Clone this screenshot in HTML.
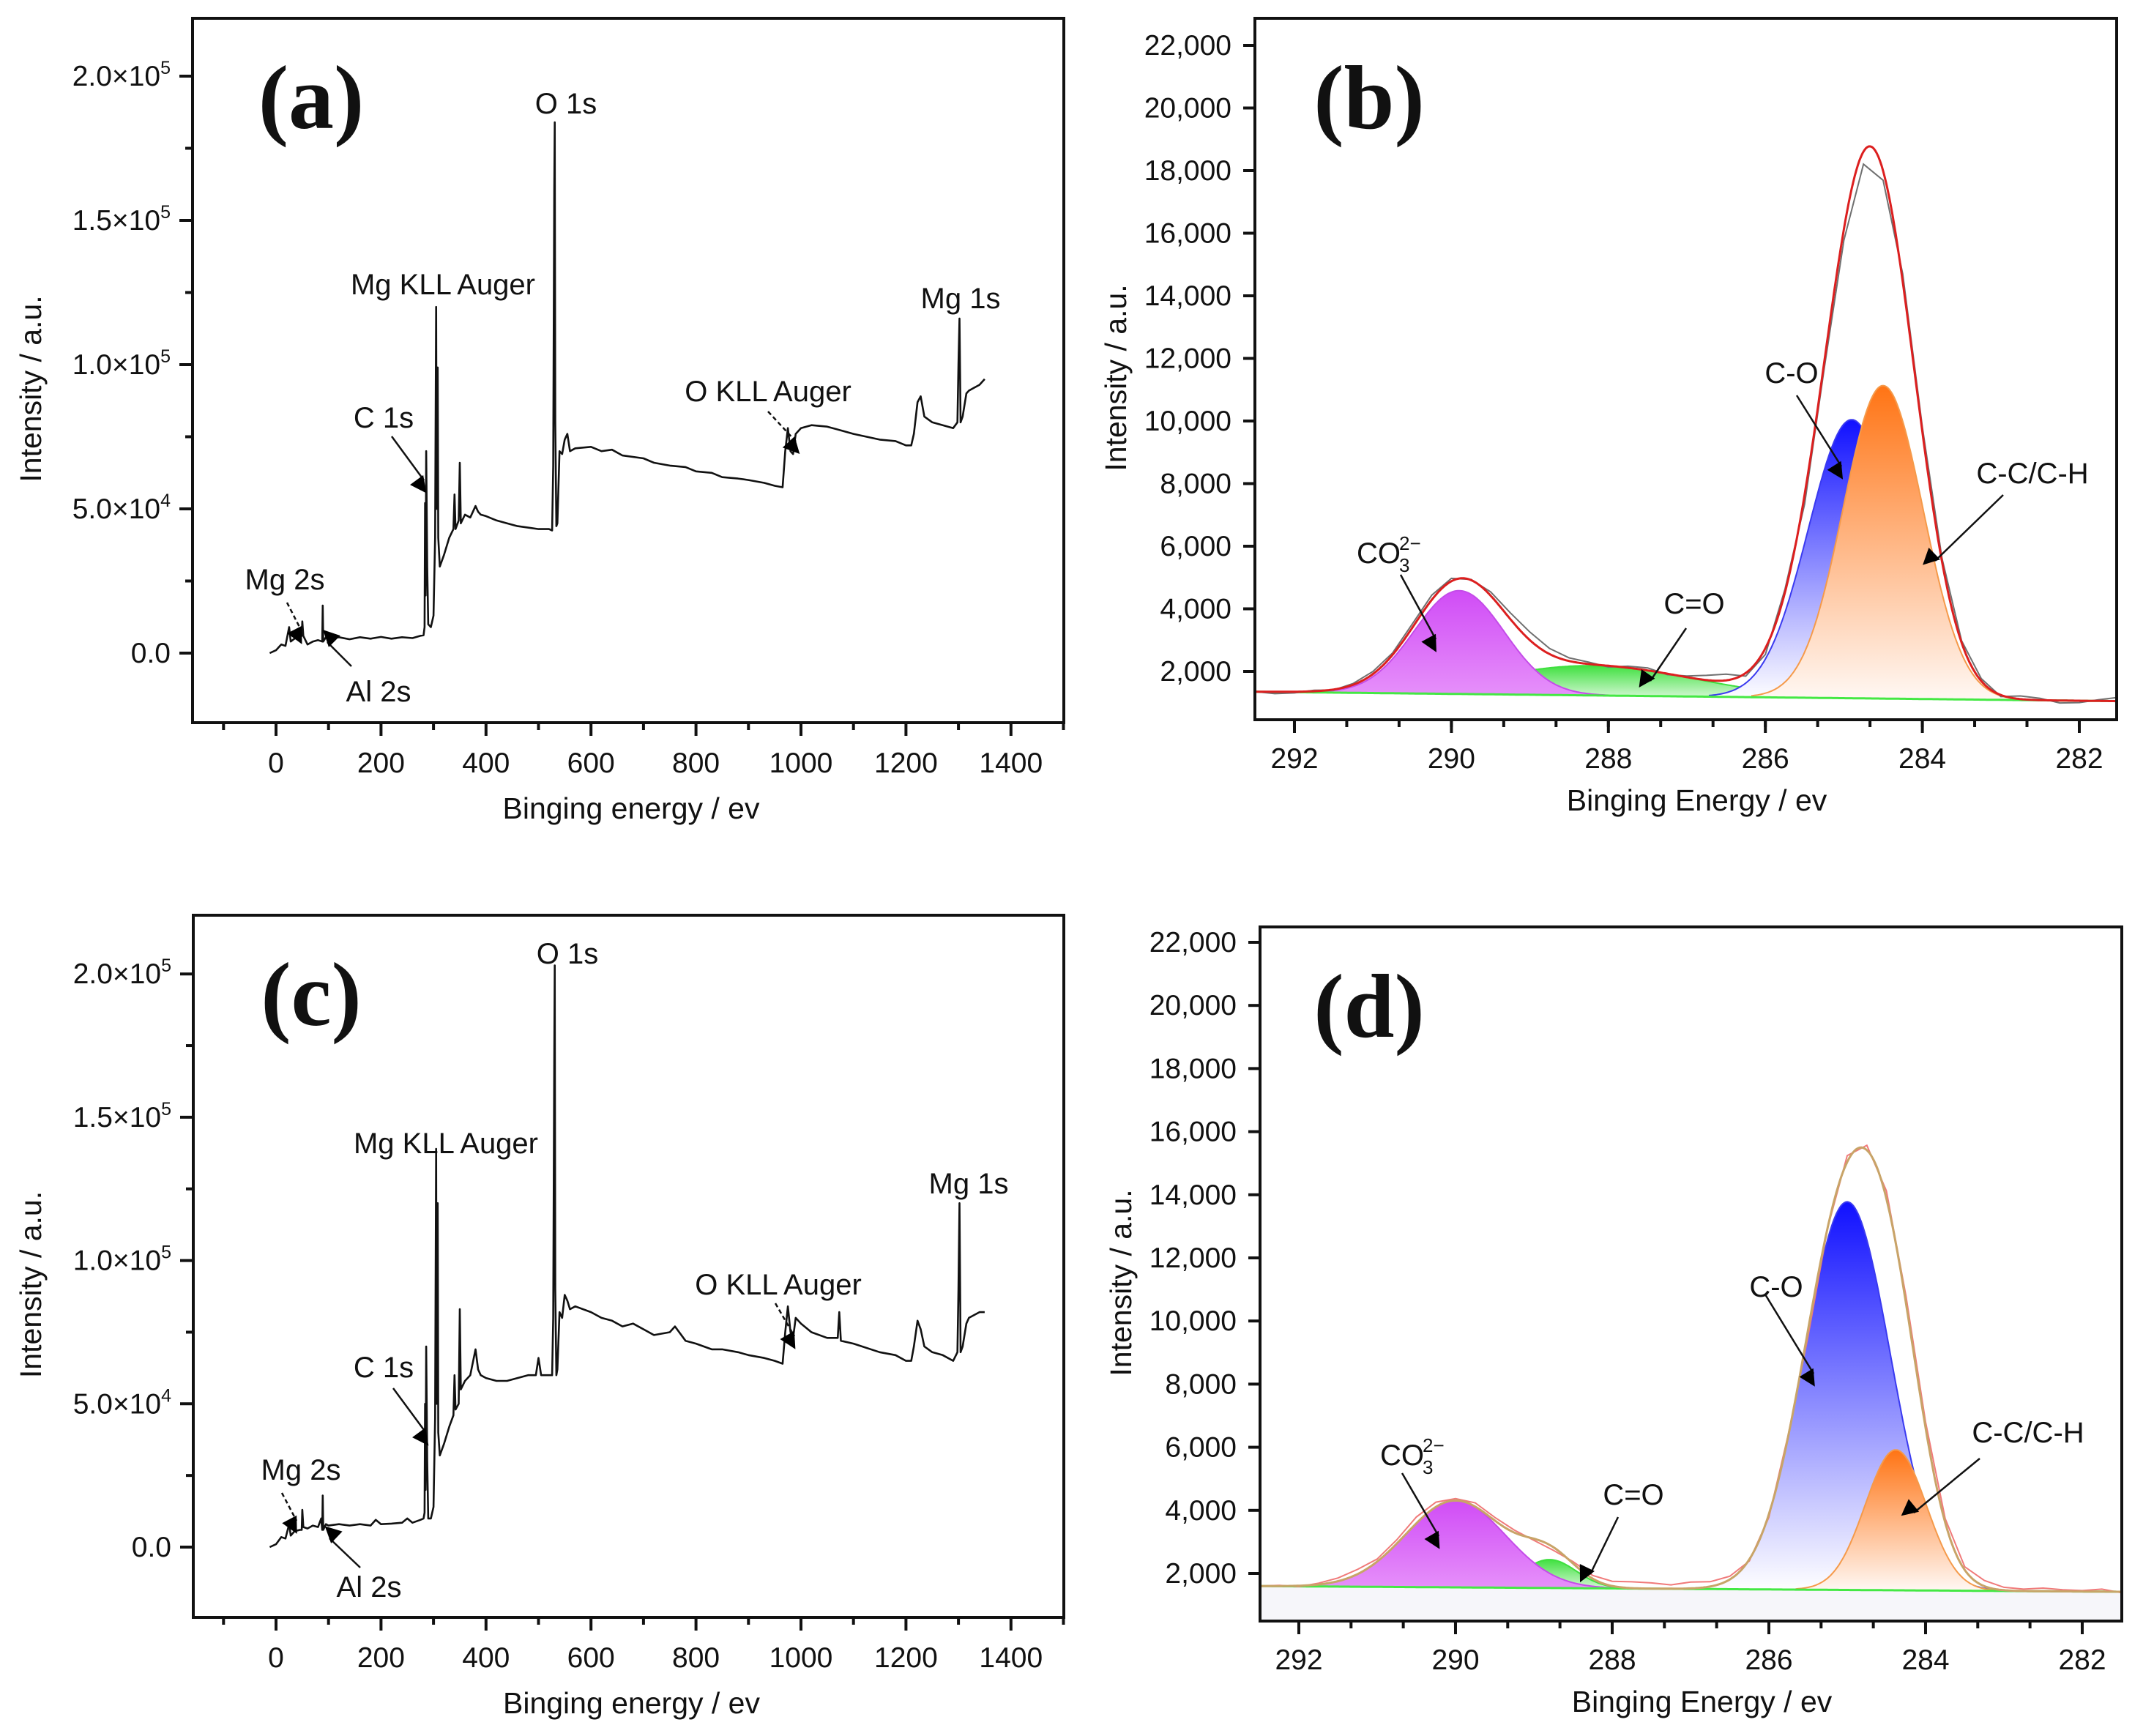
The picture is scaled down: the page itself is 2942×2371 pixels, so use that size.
<!DOCTYPE html>
<html><head><meta charset="utf-8"><style>
html,body{margin:0;padding:0;background:#fff;}
svg{display:block;font-family:"Liberation Sans",Arial,sans-serif;}
</style></head>
<body>
<svg id="fig" width="2942" height="2371" viewBox="0 0 2942 2371" xmlns="http://www.w3.org/2000/svg">
<defs>
<marker id="ah" viewBox="0 0 10 10" refX="9" refY="5" markerWidth="7" markerHeight="7" orient="auto-start-reverse" markerUnits="userSpaceOnUse" style="overflow:visible">
<path d="M0,0 L10,5 L0,10 z" fill="#000" transform="scale(3.2)"/>
</marker>
<linearGradient id="gBlue" x1="0" y1="0" x2="0" y2="1"><stop offset="0" stop-color="#1010ff"/><stop offset="1" stop-color="#ffffff"/></linearGradient>
<linearGradient id="gOrange" x1="0" y1="0" x2="0" y2="1"><stop offset="0" stop-color="#ff7414"/><stop offset="1" stop-color="#fff8f4"/></linearGradient>
<linearGradient id="gPurple" x1="0" y1="0" x2="0" y2="1"><stop offset="0" stop-color="#d04cf6"/><stop offset="1" stop-color="#e690fa"/></linearGradient>
<linearGradient id="gGreen" x1="0" y1="0" x2="0" y2="1"><stop offset="0" stop-color="#40e040"/><stop offset="1" stop-color="#e4fae4"/></linearGradient>
<clipPath id="clipA"><rect x="263" y="25" width="1190" height="962"/></clipPath>
<clipPath id="clipB"><rect x="1714" y="25" width="1177" height="958"/></clipPath>
<clipPath id="clipC"><rect x="264" y="1250" width="1189" height="959"/></clipPath>
<clipPath id="clipD"><rect x="1721" y="1266" width="1177" height="948"/></clipPath>
</defs>
<g id="root"></g>
</svg>
<script>
// ---------- DATA ----------
const surveyA = [[-12,0],[0,0.1],[10,0.3],[18,0.25],[25,0.9],[28,0.4],[35,0.5],[45,0.55],[49,0.6],[50,1.1],[52,0.6],[60,0.3],[70,0.4],[80,0.45],[88,0.4],[89,1.65],[90,0.4],[95,0.55],[100,0.5],[120,0.55],[140,0.48],[160,0.55],[180,0.5],[200,0.56],[220,0.5],[240,0.55],[260,0.52],[275,0.6],[281,0.62],[283,0.9],[284,5.2],[285,2.0],[286,7.0],[288,3.0],[290,1.0],[295,0.9],[300,1.3],[303,4.0],[305,12.0],[306,5.0],[308,9.9],[309,4.0],[312,3.0],[320,3.4],[330,4.0],[338,4.3],[340,5.5],[342,4.3],[348,4.6],[350,6.6],[352,4.5],[360,4.8],[370,4.7],[380,5.1],[385,4.9],[390,4.8],[400,4.75],[420,4.6],[440,4.5],[460,4.4],[480,4.35],[500,4.3],[520,4.3],[526,4.25],[528,6.5],[530,16],[531,18.4],[532,8],[534,4.4],[536,4.5],[540,7.0],[545,6.9],[550,7.4],[555,7.6],[560,7.0],[570,7.1],[600,7.15],[620,7.0],[640,7.05],[660,6.85],[700,6.75],[720,6.6],[750,6.5],[780,6.45],[800,6.3],[830,6.25],[850,6.1],[880,6.05],[900,6.0],[930,5.9],[950,5.8],[965,5.75],[970,7.0],[975,7.8],[980,7.0],[985,6.9],[990,7.6],[1000,7.8],[1020,7.9],[1050,7.85],[1080,7.7],[1100,7.6],[1150,7.4],[1180,7.35],[1200,7.2],[1210,7.2],[1215,7.6],[1222,8.7],[1228,8.9],[1235,8.2],[1250,8.0],[1270,7.9],[1290,7.8],[1298,8.0],[1300,10.0],[1302,11.6],[1304,8.0],[1308,8.2],[1315,9.0],[1320,9.1],[1330,9.2],[1340,9.3],[1350,9.5]];
const surveyC = [[-12,0],[0,0.1],[10,0.35],[18,0.3],[25,0.8],[28,0.4],[35,0.55],[45,0.6],[49,0.6],[50,1.3],[52,0.7],[60,0.65],[70,0.75],[80,0.7],[86,1.0],[88,0.6],[89,1.8],[90,0.6],[95,0.8],[100,0.75],[120,0.8],[140,0.75],[160,0.8],[180,0.75],[190,0.95],[200,0.8],[220,0.82],[240,0.85],[250,1.0],[260,0.85],[275,0.95],[281,1.0],[283,1.2],[284,5.0],[285,2.0],[286,7.0],[288,3.0],[290,1.0],[295,1.0],[300,1.4],[303,4.5],[305,13.9],[306,5.0],[308,12.0],[309,4.0],[312,3.2],[320,3.6],[330,4.2],[338,4.6],[340,6.0],[342,4.8],[348,5.0],[350,8.3],[352,5.5],[360,5.8],[370,6.0],[380,6.9],[385,6.2],[390,6.0],[400,5.9],[420,5.8],[440,5.8],[460,5.9],[480,6.0],[495,6.0],[500,6.6],[505,6.0],[520,6.0],[526,6.0],[528,8.0],[530,17],[531,20.3],[532,9],[534,6.0],[536,6.2],[540,8.2],[545,8.0],[550,8.8],[555,8.6],[560,8.3],[570,8.4],[600,8.2],[620,8.0],[640,7.9],[660,7.7],[680,7.8],[700,7.6],[720,7.4],[750,7.5],[760,7.7],[780,7.2],[800,7.1],[830,6.9],[850,6.9],[880,6.8],[900,6.7],[930,6.6],[950,6.5],[965,6.4],[970,7.5],[975,8.4],[980,7.5],[985,7.3],[990,8.0],[1000,7.8],[1020,7.5],[1050,7.3],[1070,7.3],[1073,8.2],[1076,7.2],[1100,7.1],[1150,6.8],[1180,6.7],[1200,6.5],[1210,6.5],[1215,7.0],[1222,7.9],[1228,7.6],[1235,7.0],[1250,6.8],[1270,6.7],[1290,6.5],[1298,6.8],[1300,9.0],[1302,12.0],[1304,6.8],[1308,7.0],[1315,7.8],[1320,8.0],[1330,8.1],[1340,8.2],[1350,8.2]];
const surveyXTicks = [0,200,400,600,800,1000,1200,1400];
const surveyYTicks = [0,5,10,15,20];
const surveyYLabels = ["0.0","5.0×10","1.0×10","1.5×10","2.0×10"];
const surveyYExp = ["","4","5","5","5"];

const bCenters = [288.2, 289.9, 284.9, 284.5];
const bAmps    = [950, 3300, 8900, 10000];
const bFwhm    = [3.0, 1.35, 1.3, 1.2];
const bBaseline = [1350, 1050];
const dCenters = [288.8, 290.0, 285.0, 284.38];
const dAmps    = [900, 2750, 12300, 4450];
const dFwhm    = [0.8, 1.5, 1.3, 0.92];
const dBaseline = [1600, 1420];
const rawEnergies = [292.5,292.25,292,291.75,291.5,291.25,291,290.75,290.5,290.25,290,289.75,289.5,289.25,289,288.75,288.5,288.25,288,287.75,287.5,287.25,287,286.75,286.5,286.25,286,285.75,285.5,285.25,285,284.75,284.5,284.25,284,283.75,283.5,283.25,283,282.75,282.5,282.25,282,281.75,281.5];
const rawBResid = [0,-60,-40,30,-20,40,80,60,120,150,90,20,120,200,260,180,100,60,-40,50,80,-30,40,150,200,-100,-200,100,-300,-200,-350,-400,-300,250,150,100,60,80,-50,100,60,-80,-60,40,120];
const rawDResid = [0,20,-30,40,100,150,80,120,200,150,60,120,100,80,-50,-100,60,100,150,200,180,120,200,150,100,-50,-100,50,-200,0,200,150,250,220,180,120,100,180,90,60,100,50,30,80,-30];
const xpsXTicks = [292,290,288,286,284,282];
const xpsYTicks = [2000,4000,6000,8000,10000,12000,14000,16000,18000,20000,22000];

const NS = "http://www.w3.org/2000/svg";
const root = document.getElementById('root');
function mk(tag, attrs, parent){
  const e = document.createElementNS(NS, tag);
  for (const k in attrs) e.setAttribute(k, attrs[k]);
  (parent||root).appendChild(e);
  return e;
}
function txt(s, x, y, size, anchor, parent, extra){
  const t = mk('text', Object.assign({x:x, y:y, 'font-size':size, 'text-anchor':anchor||'middle', fill:'#111'}, extra||{}), parent);
  t.textContent = s;
  return t;
}
function fmt(n){ return n.toLocaleString('en-US'); }
function frame(g, x0, y0, x1, y1){
  const r = mk('rect', {x:x0, y:y0, width:x1-x0, height:y1-y0, fill:'none', stroke:'#111', 'stroke-width':4}, g);
  
  
}
function arrow(g, x1, y1, x2, y2, dashed, name){
  const l = mk('line', {x1:x1, y1:y1, x2:x2, y2:y2, stroke:'#111', 'stroke-width':2.5, 'marker-end':'url(#ah)'}, g);
  if (dashed) l.setAttribute('stroke-dasharray', '6 4');
  
  
}

function surveyPanel(id, data, box, yZero, yPer1e4, clip, labels){
  const g = mk('g', {});
  
  
  const sx = v => 377 + v * 0.717;
  const sy = v => yZero - v * yPer1e4;
  const pts = data.map(p => sx(p[0]).toFixed(1) + ',' + sy(p[1]).toFixed(1)).join(' ');
  const pl = mk('polyline', {points:pts, fill:'none', stroke:'#111', 'stroke-width':2.6, 'stroke-linejoin':'round', 'clip-path':'url(#' + clip + ')'}, g);
  
  
  frame(g, box[0], box[1], box[2], box[3]);
  surveyXTicks.forEach(v => {
    mk('line', {x1:sx(v), x2:sx(v), y1:box[3], y2:box[3]+18, stroke:'#111', 'stroke-width':4}, g);
    const t = txt(String(v), sx(v), box[3]+68, 39, 'middle', g);
    
    
  });
  for (let v = -100; v <= 1500; v += 200) {
    if (sx(v) > box[0] && sx(v) < box[2]) mk('line', {x1:sx(v), x2:sx(v), y1:box[3], y2:box[3]+10, stroke:'#111', 'stroke-width':4}, g);
  }
  surveyYTicks.forEach((v, i) => {
    mk('line', {x1:box[0]-18, x2:box[0], y1:sy(v), y2:sy(v), stroke:'#111', 'stroke-width':4}, g);
    const t = txt('', box[0]-30, sy(v)+13, 39, 'end', g);
    
    
    const a = document.createElementNS(NS, 'tspan'); a.textContent = surveyYLabels[i]; t.appendChild(a);
    if (surveyYExp[i]) {
      const b = document.createElementNS(NS, 'tspan');
      b.setAttribute('dy', '-16'); b.setAttribute('font-size', '25');
      b.textContent = surveyYExp[i]; t.appendChild(b);
    }
  });
  for (let v = 2.5; v < 21; v += 5) mk('line', {x1:box[0]-10, x2:box[0], y1:sy(v), y2:sy(v), stroke:'#111', 'stroke-width':4}, g);
  const xt = txt('Binging energy / ev', (box[0]+box[2])/2 + 4, box[3]+131, 41, 'middle', g);
  
  
  const cy = (box[1]+box[3])/2 + 25;
  const yt = txt('Intensity / a.u.', 42, cy, 41, 'middle', g, {transform:'rotate(-90 42 ' + cy + ')', dy:'14'});
  
  
  const pl2 = txt('(' + id + ')', 425, box[1]+150, 124, 'middle', g, {'font-family':'"Liberation Serif",serif', 'font-weight':'bold'});
  
  
  labels.forEach(L => {
    const t = txt(L.t, L.x, L.y, 40, 'middle', g);
    
    
    if (L.a) arrow(g, L.a[0], L.a[1], L.a[2], L.a[3], L.d, 'peak-arrow');
  });
}

surveyPanel('a', surveyA, [263,25,1453,987], 892, 39.4, 'clipA', [
  {t:'O 1s', x:773, y:155},
  {t:'Mg KLL Auger', x:605, y:402},
  {t:'C 1s', x:524, y:584, a:[535,596,579,656]},
  {t:'Mg 1s', x:1312, y:421},
  {t:'O KLL Auger', x:1049, y:548, a:[1049,562,1087,603], d:true},
  {t:'Mg 2s', x:389, y:805, a:[392,823,412,862], d:true},
  {t:'Al 2s', x:517, y:958, a:[480,910,447,877]}
]);
surveyPanel('c', surveyC, [264,1250,1453,2209], 2113, 39.14, 'clipC', [
  {t:'O 1s', x:775, y:1316},
  {t:'Mg KLL Auger', x:609, y:1575},
  {t:'C 1s', x:524, y:1881, a:[537,1896,582,1957]},
  {t:'Mg 1s', x:1323, y:1630},
  {t:'O KLL Auger', x:1063, y:1768, a:[1059,1780,1085,1825], d:true},
  {t:'Mg 2s', x:411, y:2021, a:[385,2039,405,2077], d:true},
  {t:'Al 2s', x:504, y:2181, a:[492,2141,450,2101]}
]);

function c1sPanel(id, box, x292, pxPerEv, y2000, pxPer2000, centers, amps, fwhm, baseline, resid, envColor, rawColor, clip, shadeBelow, labels){
  const g = mk('g', {});
  
  
  const sx = e => x292 + (292 - e) * pxPerEv;
  const sy = v => y2000 - (v - 2000) * pxPer2000 / 2000;
  const eMin = 281.3, eMax = 292.7;
  const base = e => baseline[0] + (baseline[1]-baseline[0]) * (292.5 - e) / 11;
  const comp = (i, e) => amps[i] * Math.exp(-4*Math.LN2*Math.pow(e-centers[i],2)/Math.pow(fwhm[i],2));
  const envAt = e => { let v = base(e); for (let i=0;i<centers.length;i++) v += comp(i,e); return v; };
  const grid = []; for (let e = eMax; e >= eMin - 1e-9; e -= 0.02) grid.push(e);
  const cg = mk('g', {'clip-path':'url(#' + clip + ')'}, g);
  if (shadeBelow) {
    const pts = grid.map(e => sx(e).toFixed(1)+','+sy(base(e)).toFixed(1));
    pts.push(sx(eMin)+','+box[3]); pts.push(sx(eMax)+','+box[3]);
    mk('polygon', {points:pts.join(' '), fill:'#f6f6fa'}, cg);
  }
  const fills = ['url(#gGreen)','url(#gPurple)','url(#gBlue)','url(#gOrange)'];
  const strokes = ['#3ee03e','#c44ce8','#3a3af0','#f59a4a'];
  const names = ['c-o-double-peak','carbonate-peak','c-o-peak','c-c-peak'];
  for (let i = 0; i < centers.length; i++) {
    const sub = grid.filter(e => comp(i,e) > amps[i]*0.004 || i === 0);
    const top = sub.map(e => sx(e).toFixed(1)+','+sy(base(e)+comp(i,e)).toFixed(1));
    const bot = sub.slice().reverse().map(e => sx(e).toFixed(1)+','+sy(base(e)).toFixed(1));
    const p = mk('polygon', {points:top.concat(bot).join(' '), fill:fills[i], stroke:'none'}, cg);
    
    
    const l = mk('polyline', {points:top.join(' '), fill:'none', stroke:strokes[i], 'stroke-width':2}, cg);
    
    
  }
  const bl = mk('polyline', {points:grid.map(e => sx(e).toFixed(1)+','+sy(base(e)).toFixed(1)).join(' '), fill:'none', stroke:'#44e844', 'stroke-width':3}, cg);
  
  
  const rawPts = rawEnergies.map((e, k) => sx(e).toFixed(1)+','+sy(envAt(e) + resid[k]).toFixed(1));
  const rl = mk('polyline', {points:rawPts.join(' '), fill:'none', stroke:rawColor, 'stroke-width':2}, cg);
  
  
  const env = grid.map(e => sx(e).toFixed(1)+','+sy(envAt(e)).toFixed(1));
  const el = mk('polyline', {points:env.join(' '), fill:'none', stroke:envColor, 'stroke-width':3}, cg);
  
  
  frame(g, box[0], box[1], box[2], box[3]);
  xpsXTicks.forEach(v => {
    mk('line', {x1:sx(v), x2:sx(v), y1:box[3], y2:box[3]+18, stroke:'#111', 'stroke-width':4}, g);
    const t = txt(String(v), sx(v), box[3]+66, 39, 'middle', g);
    
    
  });
  for (let v = 292.667; v > 281; v -= 2/3) {
    if (sx(v) > box[0]+2 && sx(v) < box[2]-2) mk('line', {x1:sx(v), x2:sx(v), y1:box[3], y2:box[3]+10, stroke:'#111', 'stroke-width':4}, g);
  }
  xpsYTicks.forEach(v => {
    mk('line', {x1:box[0]-16, x2:box[0], y1:sy(v), y2:sy(v), stroke:'#111', 'stroke-width':4}, g);
    const t = txt(fmt(v), box[0]-32, sy(v)+13, 39, 'end', g);
    
    
  });
  const xt = txt('Binging Energy / ev', (box[0]+box[2])/2 + 15, box[3]+124, 41, 'middle', g);
  
  
  const tx = box[0] - 190, cy = (box[1]+box[3])/2 + 12;
  const yt = txt('Intensity / a.u.', tx, cy, 41, 'middle', g, {transform:'rotate(-90 '+tx+' '+cy+')', dy:'14'});
  
  
  const pl = txt('(' + id + ')', 1870, box[1]+150, 124, 'middle', g, {'font-family':'"Liberation Serif",serif', 'font-weight':'bold'});
  
  
  labels.forEach(L => {
    if (L.co3) {
      const t = txt('CO', L.x, L.y, 40, 'start', g);
      
      
      txt('3', L.x+58, L.y+12, 26, 'start', g);
      txt('2−', L.x+58, L.y-18, 26, 'start', g);
    } else {
      const t = txt(L.t, L.x, L.y, 40, 'middle', g);
      
      
    }
    arrow(g, L.a[0], L.a[1], L.a[2], L.a[3], false, 'component-arrow');
  });
}

c1sPanel('b', [1714,25,2891,983], 1768, 107.2, 917, 85.5, bCenters, bAmps, bFwhm, bBaseline, rawBResid, '#dc1f1f', '#707070', 'clipB', false, [
  {co3:true, x:1853, y:769, a:[1913,785,1961,873]},
  {t:'C=O', x:2314, y:838, a:[2303,858,2254,930]},
  {t:'C-O', x:2447, y:523, a:[2454,540,2515,637]},
  {t:'C-C/C-H', x:2776, y:660, a:[2736,676,2643,766]}
]);
c1sPanel('d', [1721,1266,2898,2214], 1774, 107, 2149, 86.2, dCenters, dAmps, dFwhm, dBaseline, rawDResid, '#c8a468', '#f07a7a', 'clipD', true, [
  {co3:true, x:1885, y:2001, a:[1915,2012,1965,2098]},
  {t:'C=O', x:2231, y:2055, a:[2210,2072,2172,2150]},
  {t:'C-O', x:2426, y:1771, a:[2411,1768,2477,1876]},
  {t:'C-C/C-H', x:2770, y:1970, a:[2704,1992,2614,2066]}
]);
</script>
</body></html>
